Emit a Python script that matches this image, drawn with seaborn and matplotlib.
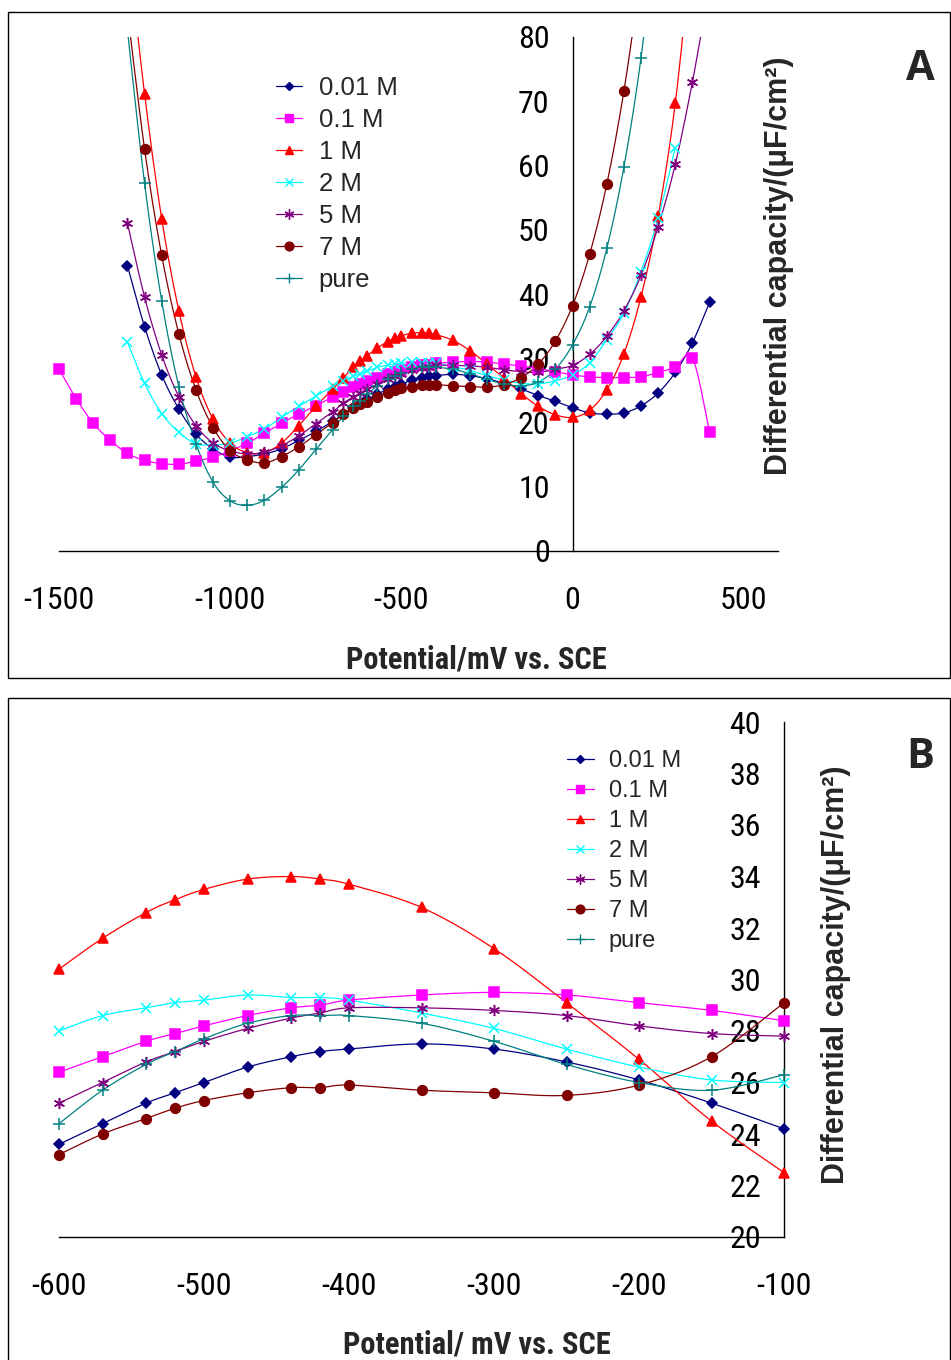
import numpy as np
import matplotlib
matplotlib.use("Agg")
import matplotlib.pyplot as plt
import seaborn as sns
from matplotlib import font_manager
from matplotlib.lines import Line2D
from matplotlib.patches import Rectangle

# potential grid (mV vs SCE)
potential = [-1500, -1450, -1400, -1350, -1300, -1250, -1200, -1150, -1100, -1050,
             -1000, -950, -900, -850, -800, -750, -700, -670, -640, -620,
             -600, -570, -540, -520, -500, -470, -440, -420, -400,
             -350, -300, -250, -200, -150, -100, -50, 0, 50, 100, 150, 200,
             250, 300, 350, 400]
nan = np.nan

c_001 = [nan, nan, nan, nan, 44.4, 34.9, 27.4, 22.1, 18.2, 15.9,
         14.6, 14.7, 15.1, 15.9, 17.2, 18.6, 20.2, 21.3, 22.3, 22.9,
         23.6, 24.4, 25.2, 25.6, 26.0, 26.6, 27.0, 27.2, 27.3,
         27.5, 27.3, 26.8, 26.1, 25.2, 24.2, 23.3, 22.3, 21.5, 21.3, 21.5, 22.6,
         24.6, 27.8, 32.4, 38.7]
c_01 = [28.3, 23.7, 19.9, 17.2, 15.2, 14.1, 13.6, 13.5, 14.0, 14.6,
        15.6, 16.8, 18.3, 19.9, 21.3, 22.6, 24.0, 24.8, 25.6, 26.0,
        26.4, 27.0, 27.6, 27.9, 28.2, 28.6, 28.9, 29.0, 29.2,
        29.4, 29.5, 29.4, 29.1, 28.8, 28.4, 27.9, 27.4, 27.1, 27.0, 27.0, 27.1,
        27.8, 28.6, 30.1, 18.5]
c_1 = [nan, nan, nan, nan, 95.0, 71.1, 51.7, 37.4, 27.1, 20.5,
       16.8, 15.3, 15.3, 16.8, 19.5, 22.5, 25.2, 26.9, 28.7, 29.5,
       30.4, 31.6, 32.6, 33.1, 33.5, 33.9, 34.0, 33.9, 33.7,
       32.8, 31.2, 29.1, 26.9, 24.5, 22.5, 21.2, 20.8, 21.9, 25.1, 30.7, 39.6,
       52.1, 69.7, 95.0, nan]
c_2 = [nan, nan, nan, nan, 32.5, 26.1, 21.4, 18.5, 16.7, 16.5,
       16.8, 17.8, 19.0, 20.8, 22.5, 24.1, 25.7, 26.5, 27.2, 27.6,
       28.0, 28.6, 28.9, 29.1, 29.2, 29.4, 29.3, 29.3, 29.2,
       28.7, 28.1, 27.3, 26.6, 26.1, 26.0, 26.5, 27.4, 29.3, 32.9, 37.0, 43.5,
       51.8, 62.8, nan, nan]
c_5 = [nan, nan, nan, nan, 51.0, 39.5, 30.5, 24.0, 19.5, 16.8,
       15.6, 15.1, 15.4, 16.4, 17.9, 19.8, 21.7, 23.0, 24.0, 24.6,
       25.2, 26.0, 26.8, 27.2, 27.6, 28.1, 28.5, 28.7, 28.9,
       28.9, 28.8, 28.6, 28.2, 27.9, 27.8, 28.3, 28.9, 30.6, 33.4, 37.4, 42.9,
       50.5, 60.2, 73.0, 88.0]
c_7 = [nan, nan, nan, nan, 84.0, 62.5, 46.0, 33.8, 25.1, 19.2,
       15.6, 14.2, 13.7, 14.7, 16.2, 18.1, 20.0, 21.3, 22.3, 22.9,
       23.2, 24.0, 24.6, 25.0, 25.3, 25.6, 25.8, 25.8, 25.9,
       25.7, 25.6, 25.5, 25.9, 27.0, 29.1, 32.7, 38.2, 46.2, 57.1, 71.6, 90.0,
       nan, nan, nan, nan]
c_pure = [nan, nan, nan, nan, 81.0, 57.2, 38.9, 25.6, 16.7, 10.7,
          7.8, 7.1, 7.9, 9.9, 12.6, 15.8, 18.9, 21.0, 22.5, 23.4,
          24.4, 25.7, 26.7, 27.2, 27.7, 28.3, 28.6, 28.6, 28.6,
          28.3, 27.6, 26.7, 26.0, 25.7, 26.3, 28.3, 32.1, 38.0, 47.1, 59.8, 76.8,
          100.0, nan, nan, nan]

labels = ["0.01 M", "0.1 M", "1 M", "2 M", "5 M", "7 M", "pure"]
series = [c_001, c_01, c_1, c_2, c_5, c_7, c_pure]
colors = ["#000080", "#FF00FF", "#FF0000", "#00FFFF", "#800080", "#800000", "#008080"]
markers = ["D", "s", "^", "x", (6, 2, 0), "o", "+"]
msizes = [5, 6.5, 7, 7, 8, 7, 8]

sns.set_style("white")
names = {f.name for f in font_manager.fontManager.ttflist}
narrow = None
for cand in ["Liberation Sans Narrow", "Arial Narrow", "Roboto Condensed"]:
    if cand in names:
        narrow = cand
        break
plt.rcParams["font.family"] = ["Liberation Sans", "DejaVu Sans"]
plt.rcParams["axes.unicode_minus"] = False
tick_family = narrow or "Liberation Sans"
tick_size = 23 if narrow else 20
title_size = 22 if narrow else 19.5


def smooth(x, y, n=16):
    # Excel-like smoothed line (Catmull-Rom as cubic Bezier)
    p = np.column_stack([x, y])
    out = []
    t = np.linspace(0, 1, n, endpoint=False)[:, None]
    for i in range(len(p) - 1):
        p0 = p[max(i - 1, 0)]
        p1, p2 = p[i], p[i + 1]
        p3 = p[min(i + 2, len(p) - 1)]
        c1 = p1 + (p2 - p0) / 6
        c2 = p2 - (p3 - p1) / 6
        b = ((1 - t) ** 3) * p1 + 3 * ((1 - t) ** 2) * t * c1 + 3 * (1 - t) * t ** 2 * c2 + t ** 3 * p2
        out.append(b)
    out.append(p[-1:])
    out = np.vstack(out)
    return out[:, 0], out[:, 1]


def draw(ax, xmin, xmax, ymin, ymax):
    x_all = np.array(potential, dtype=float)
    for vals, lab, col, mk, ms in zip(series, labels, colors, markers, msizes):
        y_all = np.array(vals, dtype=float)
        keep = (~np.isnan(y_all)) & (x_all >= xmin) & (x_all <= xmax)
        xs, ys = x_all[keep], y_all[keep]
        sx, sy = smooth(xs, ys)
        sns.lineplot(x=sx, y=sy, ax=ax, color=col, lw=0.9, sort=False, estimator=None)
        vis = (ys >= ymin) & (ys <= ymax)
        ax.plot(xs[vis], ys[vis], ls="none", marker=mk, ms=ms, color=col,
                mec=col, mew=1.1, clip_on=False, zorder=3)
    ax.set_xlim(xmin, xmax)
    ax.set_ylim(ymin, ymax)


def handles():
    hs = []
    for lab, col, mk, ms in zip(labels, colors, markers, msizes):
        hs.append(Line2D([0], [0], color=col, lw=0.9, marker=mk, ms=ms * 0.9, mec=col, mew=1.0, label=lab))
    return hs


def style_axis(ax, xt, yt, cross):
    ax.spines["top"].set_visible(False)
    ax.spines["right"].set_visible(False)
    ax.spines["left"].set_position(("data", cross))
    for s in ("left", "bottom"):
        ax.spines[s].set_color("black")
        ax.spines[s].set_linewidth(1.0)
    ax.set_xticks(xt)
    ax.set_yticks(yt)
    ax.tick_params(axis="x", direction="out", length=7, width=1, pad=18, labelsize=tick_size, colors="black")
    ax.tick_params(axis="y", direction="out", length=4.5, width=1, pad=12, labelsize=tick_size, colors="black")
    for lb in ax.get_xticklabels() + ax.get_yticklabels():
        lb.set_fontfamily(tick_family)
    ax.set_xlabel("")
    ax.set_ylabel("")


W, H = 951, 1360
fig = plt.figure(figsize=(W / 100, H / 100), dpi=100)

# ---------- panel A ----------
axA = fig.add_axes([59 / W, 1 - 551 / H, 719 / W, 514 / H])
draw(axA, -1500, 600, 0, 80)
style_axis(axA, [-1500, -1000, -500, 0, 500], range(0, 81, 10), 0)
axA.legend(handles=handles(), loc="upper left", bbox_to_anchor=(276 / W, 1 - 76 / H),
           bbox_transform=fig.transFigure, frameon=False, fontsize=18.5, borderpad=0,
           borderaxespad=0, handlelength=1.0, handletextpad=0.66, labelspacing=0.31)

# ---------- panel B ----------
axB = fig.add_axes([59 / W, 1 - 1237 / H, 725 / W, 515 / H])
draw(axB, -600, -100, 20, 40)
style_axis(axB, range(-600, -99, 100), range(20, 41, 2), -100)
axB.legend(handles=handles(), loc="upper left", bbox_to_anchor=(567 / W, 1 - 750 / H),
           bbox_transform=fig.transFigure, frameon=False, fontsize=17, borderpad=0,
           borderaxespad=0, handlelength=1.14, handletextpad=0.63, labelspacing=0.34)

# ---------- labels, frames ----------
fig.text(476 / W, 1 - 659 / H, "Potential/mV vs. SCE", ha="center", va="center",
         fontsize=title_size, fontweight="bold", family=tick_family)
fig.text(477 / W, 1 - 1345 / H, "Potential/ mV vs. SCE", ha="center", va="center",
         fontsize=title_size, fontweight="bold", family=tick_family)
fig.text(779 / W, 1 - 266 / H, "Differential capacity/(\u03bcF/cm\u00b2)", rotation=90,
         ha="center", va="center", fontsize=22, fontweight="bold")
fig.text(836 / W, 1 - 975 / H, "Differential capacity/(\u03bcF/cm\u00b2)", rotation=90,
         ha="center", va="center", fontsize=22, fontweight="bold")
fig.text(920 / W, 1 - 70 / H, "A", ha="center", va="center", fontsize=30,
         fontweight="bold", family=["Open Sans", "DejaVu Sans"])
fig.text(920 / W, 1 - 757 / H, "B", ha="center", va="center", fontsize=30,
         fontweight="bold", family=["Open Sans", "DejaVu Sans"])

fig.patches.append(Rectangle((8 / W, 1 - 678 / H), 942 / W, 666 / H, transform=fig.transFigure,
                             fill=False, ec="black", lw=1.0))
fig.patches.append(Rectangle((8 / W, -0.01), 942 / W, 662 / H + 0.01, transform=fig.transFigure,
                             fill=False, ec="black", lw=1.0))

fig.savefig("out.png", dpi=100)
